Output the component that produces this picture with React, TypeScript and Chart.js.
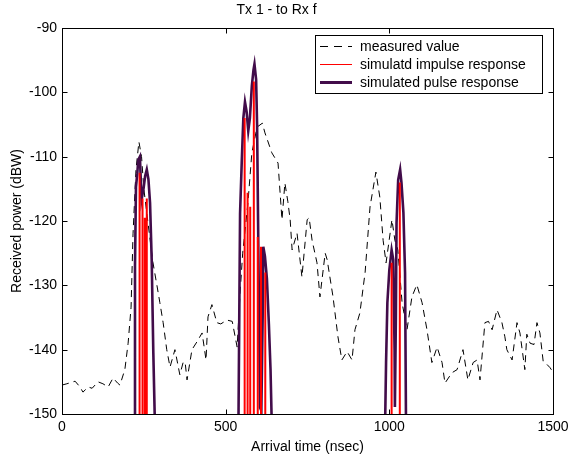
import React, { useEffect, useRef } from 'react';
import { Chart, registerables } from 'chart.js';

Chart.register(...registerables);

const titleText = 'Tx 1 - to Rx f';
const xTitle = 'Arrival time (nsec)';
const yTitle = 'Received power (dBW)';
const xTicks = [0, 500, 1000, 1500];
const yTicks = [-150, -140, -130, -120, -110, -100, -90];
const legendLabels = ['measured value', 'simulatd impulse response', 'simulated pulse response'];

const measuredTimes = [
  0, 15, 40, 55, 64, 80, 92, 110, 125, 141, 156, 170, 177, 192, 202, 211, 217, 226, 235, 243,
  250, 262, 278, 290, 299, 309, 320, 330, 345, 360, 370, 376, 382, 397, 412, 428, 440, 446, 458, 473,
  485, 504, 520, 535, 544, 552, 568, 580, 596, 612, 620, 641, 660, 672, 681, 690, 697, 703, 718, 733,
  749, 755, 764, 779, 788, 804, 810, 828, 843, 855, 871, 886, 895, 910, 926, 941, 959, 971, 981, 990,
  1008, 1017, 1026, 1039, 1054, 1069, 1084, 1100, 1115, 1130, 1146, 1161, 1170, 1191, 1207, 1225, 1240, 1256, 1268, 1277,
  1292, 1303, 1314, 1329, 1344, 1353, 1359, 1375, 1390, 1399, 1414, 1420, 1430, 1442, 1451, 1460, 1470, 1476, 1491, 1500,
];
const measuredValues = [
  -145.5, -145.3, -144.9, -145.8, -146.6, -145.8, -146, -145, -145.3, -145.8, -144.4, -145.2, -145.5, -143.1, -139, -133.4, -122, -112, -107.7, -110,
  -115, -120, -126.5, -130, -132.7, -135.8, -140, -142.7, -140, -143.9, -142, -141.9, -144.7, -140, -138.8, -137.4, -141.6, -134.9, -133, -135.8,
  -136, -135.4, -135.6, -139.6, -131.2, -125, -117.2, -109.4, -105.4, -104.8, -106.3, -109.4, -111, -119.8, -114.1, -117, -119.8, -124.5, -121.9, -128.7,
  -119.8, -119.5, -123, -126.5, -131.8, -125, -126, -131.8, -138, -141.6, -140.3, -141.6, -136.9, -134.3, -128, -117.8, -112.4, -116.3, -123, -126.5,
  -119.8, -123, -124.5, -132.7, -136.9, -131.8, -129.9, -132.7, -136.9, -142, -139.6, -142, -145.2, -143.6, -143.1, -140, -144.7, -142, -141.6, -144.7,
  -135.8, -135.6, -136.9, -133.8, -135.8, -138, -140, -141.6, -135.8, -137.4, -143.1, -137.6, -139, -139.2, -135.8, -137.4, -141.8, -142, -142.8, -143.5,
];

const impulseTimes = [237, 246, 253, 259, 558, 567, 575, 586, 598, 608, 621, 1007, 1032];
const impulseValues = [-112.5, -116.5, -119.5, -116.5, -104, -115.6, -117.8, -98.3, -122.5, -124, -128, -126.5, -114];

// null value = break between pulse clusters
const pulseTimes = [
  221, 223, 226, 230, 233, 238, 243, 249, 254, 259, 264, 269, 274, 279, 284, 300,
  539, 542, 544, 549, 554, 559, 564, 569, 574, 580, 585, 588, 593, 596, 599, 602, 605, 609, 613, 615, 620, 626, 632, 637, 641, 700,
  987, 990, 994, 1000, 1007, 1012, 1016, 1017, 1020, 1022, 1027, 1033, 1037, 1043, 1048, 1051,
];
const pulseValues = [
  -152, -127, -114.7, -112.6, -110.5, -110, -116.7, -115, -113, -112, -113.5, -117.2, -126, -140.5, -152, null,
  -152, -131.8, -118.8, -111, -104, -101.5, -103, -106, -104, -99, -96.5, -95.6, -98, -105, -120, -135, -149, -149.5, -135, -124, -125.5, -129, -136, -143, -152, null,
  -152, -142, -132.7, -127.6, -124.5, -126, -140, -148.9, -135, -120.3, -113.6, -112, -114, -118.7, -128, -152,
];

const FONT = 'Liberation Sans, Arial, Helvetica, sans-serif';
const PURPLE = '#420c4a';
const RED = '#ff0000';

export default function App() {
  const ref = useRef<HTMLCanvasElement>(null);

  useEffect(() => {
    const yMin = yTicks[0];
    const yMax = yTicks[yTicks.length - 1];
    const measuredData = measuredTimes.map((t, i) => ({ x: t, y: measuredValues[i] }));
    const impulseData: { x: number; y: number | null }[] = [];
    impulseTimes.forEach((t, i) => {
      impulseData.push({ x: t, y: yMin }, { x: t, y: impulseValues[i] }, { x: t, y: null });
    });
    const pulseData = pulseTimes.map((t, i) => ({ x: t, y: pulseValues[i] }));

    const framePlugin = {
      id: 'frameAndLegend',
      afterDraw(chart: any) {
        const { ctx, chartArea } = chart;
        const { left, right, top, bottom } = chartArea;
        const xs = chart.scales.x;
        const ys = chart.scales.y;
        ctx.save();
        ctx.strokeStyle = '#000';
        ctx.lineWidth = 1;
        ctx.setLineDash([]);
        const L = Math.round(left) + 0.5;
        const R = Math.round(right) + 0.5;
        const T = Math.round(top) + 0.5;
        const B = Math.round(bottom) + 0.5;
        ctx.beginPath();
        ctx.moveTo(L, T);
        ctx.lineTo(R, T);
        ctx.lineTo(R, B);
        ctx.lineTo(L, B);
        ctx.closePath();
        ctx.stroke();
        const tl = 5;
        ctx.beginPath();
        xTicks.forEach((v) => {
          const px = Math.round(xs.getPixelForValue(v)) + 0.5;
          ctx.moveTo(px, B);
          ctx.lineTo(px, B - tl);
          ctx.moveTo(px, T);
          ctx.lineTo(px, T + tl);
        });
        yTicks.forEach((v) => {
          const py = Math.round(ys.getPixelForValue(v)) + 0.5;
          ctx.moveTo(L, py);
          ctx.lineTo(L + tl, py);
          ctx.moveTo(R, py);
          ctx.lineTo(R - tl, py);
        });
        ctx.stroke();

        // legend box
        const bx = 315.5, by = 35.5, bw = 227, bh = 58;
        ctx.fillStyle = '#fff';
        ctx.fillRect(bx, by, bw, bh);
        ctx.strokeStyle = '#000';
        ctx.strokeRect(bx, by, bw, bh);
        const rows = [46, 64, 82];
        const styles = [
          { color: '#000', width: 1, dash: [8, 6] },
          { color: RED, width: 1, dash: [] },
          { color: PURPLE, width: 3, dash: [] },
        ];
        ctx.font = `14px ${FONT}`;
        ctx.textBaseline = 'middle';
        ctx.textAlign = 'left';
        rows.forEach((ry, i) => {
          const s = styles[i];
          ctx.beginPath();
          ctx.strokeStyle = s.color;
          ctx.lineWidth = s.width;
          ctx.setLineDash(s.dash);
          ctx.moveTo(320, ry + 0.5);
          ctx.lineTo(352, ry + 0.5);
          ctx.stroke();
          ctx.setLineDash([]);
          ctx.fillStyle = '#000';
          ctx.fillText(legendLabels[i], 360, ry + 1);
        });
        ctx.restore();
      },
    };

    const chart = new Chart(ref.current as HTMLCanvasElement, {
      type: 'line',
      data: {
        datasets: [
          {
            label: legendLabels[1],
            data: impulseData as any,
            borderColor: RED,
            borderWidth: 2,
            pointRadius: 0,
            tension: 0,
            spanGaps: false,
            clip: 0 as any,
            order: 1,
          },
          {
            label: legendLabels[2],
            data: pulseData as any,
            borderColor: PURPLE,
            borderWidth: 2.6,
            pointRadius: 0,
            tension: 0,
            spanGaps: false,
            clip: 0 as any,
            order: 2,
          },
          {
            label: legendLabels[0],
            data: measuredData,
            borderColor: '#000',
            borderWidth: 1,
            borderDash: [7, 5],
            pointRadius: 0,
            tension: 0,
            order: 3,
          },
        ],
      },
      options: {
        responsive: false,
        maintainAspectRatio: false,
        animation: false,
        events: [],
        layout: { padding: { left: 0, right: 17, top: 0, bottom: 0 } },
        plugins: {
          legend: { display: false },
          tooltip: { enabled: false },
          title: {
            display: true,
            text: titleText,
            color: '#000',
            font: { family: FONT, size: 14, weight: 'normal' },
            padding: { top: 2, bottom: 9.2 },
          },
        },
        scales: {
          x: {
            type: 'linear',
            min: xTicks[0],
            max: xTicks[xTicks.length - 1],
            afterBuildTicks: (s: any) => {
              s.ticks = xTicks.map((v) => ({ value: v }));
            },
            afterFit: (s: any) => {
              s.height = 48;
              s.paddingLeft = 0;
              s.paddingRight = 0;
            },
            ticks: {
              color: '#000',
              font: { family: FONT, size: 14 },
              padding: 5,
              autoSkip: false,
              maxRotation: 0,
              callback: (v: any) => String(v),
            },
            grid: { display: false, drawTicks: false },
            border: { display: true, color: '#000', width: 1 },
            title: {
              display: true,
              text: xTitle,
              color: '#000',
              font: { family: FONT, size: 14 },
              padding: { top: 0, bottom: 6.6 },
            },
          },
          y: {
            type: 'linear',
            min: yMin,
            max: yMax,
            afterBuildTicks: (s: any) => {
              s.ticks = yTicks.map((v) => ({ value: v }));
            },
            afterFit: (s: any) => {
              s.width = 62;
              s.paddingTop = 0;
              s.paddingBottom = 0;
            },
            ticks: {
              color: '#000',
              font: { family: FONT, size: 14 },
              padding: 5,
              autoSkip: false,
              callback: (v: any) => String(v),
            },
            grid: { display: false, drawTicks: false },
            border: { display: true, color: '#000', width: 1 },
            title: {
              display: true,
              text: yTitle,
              color: '#000',
              font: { family: FONT, size: 14 },
              padding: { top: 8.6, bottom: 0 },
            },
          },
        },
      },
      plugins: [framePlugin],
    });
    return () => chart.destroy();
  }, []);

  return (
    <div style={{ position: 'absolute', left: 0, top: 0, width: 570, height: 462, background: '#fff' }}>
      <canvas ref={ref} width={570} height={462} style={{ display: 'block', width: 570, height: 462 }} />
    </div>
  );
}
